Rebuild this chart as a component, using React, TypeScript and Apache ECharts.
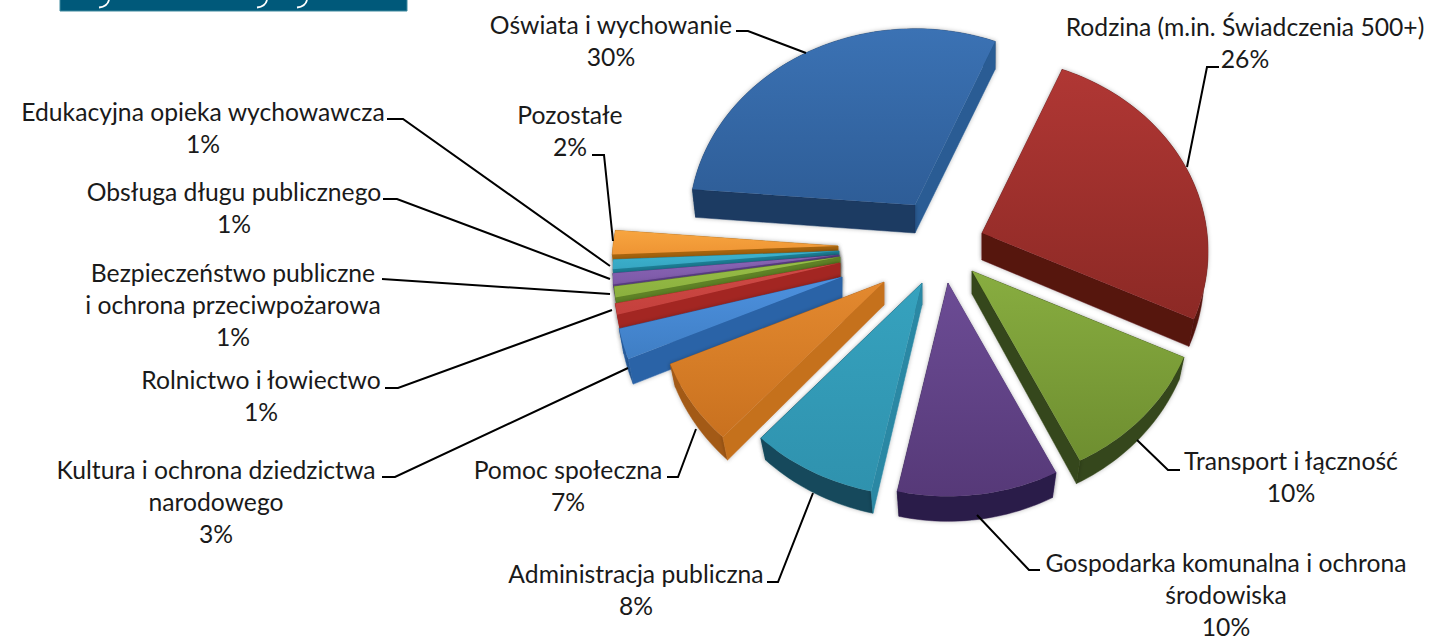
import React, { useEffect, useRef } from "react";
import * as echarts from "echarts";

// Counter-clockwise from the top-right edge of the largest slice (also the paint order).
const categories = [
  "Oświata i wychowanie",
  "Pozostałe",
  "Edukacyjna opieka wychowawcza",
  "Obsługa długu publicznego",
  "Bezpieczeństwo publiczne\ni ochrona przeciwpożarowa",
  "Rolnictwo i łowiectwo",
  "Kultura i ochrona dziedzictwa\nnarodowego",
  "Pomoc społeczna",
  "Administracja publiczna",
  "Gospodarka komunalna i ochrona\nśrodowiska",
  "Transport i łączność",
  "Rodzina (m.in. Świadczenia 500+)",
];
const shares = [30, 2, 0.8, 0.9, 0.9, 0.9, 2.5, 6.7, 8.3, 10.5, 10.7, 25.7];
const percentLabels = ["30%", "2%", "1%", "1%", "1%", "1%", "3%", "7%", "8%", "10%", "10%", "26%"];

// Exploded position of each slice's tip and its thickness
const tipX = [915, 838, 839, 839, 840, 840, 842, 884, 922, 948, 972, 982];
const tipY = [205, 246, 251, 255, 257, 263, 277, 282, 283, 283, 271, 233];
const depths = [28, 24, 24, 24, 24, 24, 25, 23, 22, 25, 23, 27];

const faceTop = ["#3B72B4", "#F7A540", "#3DB3CF", "#8A66B6", "#98BE48", "#CF4B46", "#4D91DF", "#E3892F", "#36A2BE", "#6C4C95", "#88AD40", "#B03734"];
const faceBottom = ["#2E5D97", "#EE9433", "#36A6C2", "#7D59A8", "#8BB03E", "#C4403C", "#3F7EC4", "#C9711F", "#2F92AE", "#563978", "#6E8E30", "#8C2925"];
const wallLight = ["#295C94", "#A8650F", "#1F7F96", "#5E3F8C", "#5F8326", "#A32723", "#2B63A7", "#C5711F", "#2B88A4", "#4B3270", "#3C5019", "#5E1611"];
const wallDark = ["#1B3A62", "#A8650F", "#1F7F96", "#4E3478", "#5F8326", "#A32723", "#275C9C", "#A35A18", "#144A5C", "#2A1A48", "#34461A", "#561310"];

const labelX = [611, 570, 203, 234, 233, 261, 216, 568, 636, 1226, 1291, 1245];
const labelY = [24, 114, 111, 191, 272, 379, 469, 469, 573, 562, 460, 26];
const LINE_STEP = 32.4;
const leaderLines: number[][][] = [
  [[736, 31], [748, 31], [806, 53]],
  [[592, 155], [604, 155], [613, 241]],
  [[387, 119], [403, 119], [610, 266]],
  [[383, 199], [397, 199], [610, 279]],
  [[382, 279], [610, 294]],
  [[385, 388], [398, 388], [612, 310]],
  [[382, 477], [395, 477], [628, 368]],
  [[667, 477], [678, 477], [696, 429]],
  [[767, 582], [778, 582], [813, 493]],
  [[1040, 570], [1029, 570], [977, 515]],
  [[1180, 470], [1168, 470], [1137, 440]],
  [[1219, 67], [1207, 67], [1187, 167]],
];

const START_ANGLE = 22.8;
const RX = 225;
const RY = 193;
const PERSP = 0.095;
const INSET = 0.035;

const rimPoint = (deg: number) => {
  const t = (deg * Math.PI) / 180;
  const w = 1 + PERSP * Math.cos(t);
  return [(RX * Math.sin(t)) / w, (-RY * Math.cos(t)) / w];
};

export default function App() {
  const ref = useRef<HTMLDivElement>(null);
  useEffect(() => {
    const chart = echarts.init(ref.current!, undefined, { renderer: "svg" });
    const total = shares.reduce((a, b) => a + b, 0);
    const renderItem = (params: any, api: any) => {
      const i = params.dataIndex;
      let before = 0;
      for (let k = 0; k < i; k++) before += shares[k];
      const a0 = START_ANGLE - (before / total) * 360;
      const a1 = a0 - (api.value(0) / total) * 360;
      const tx = tipX[i];
      const ty = tipY[i];
      const depth = depths[i];
      const top: number[][] = [];
      const bottom: number[][] = [];
      const steps = Math.max(2, Math.ceil((a0 - a1) / 1.5));
      for (let s = 0; s <= steps; s++) {
        const [dx, dy] = rimPoint(a0 + ((a1 - a0) * s) / steps);
        const inset = (INSET * (dy + 176)) / 389;
        top.push([tx + dx, ty + dy]);
        bottom.push([tx + dx * (1 - inset), ty + dy + depth]);
      }
      const tipTop = [tx, ty];
      const tipBottom = [tx, ty + depth];
      const last = steps;
      const shadow = { shadowBlur: 4, shadowColor: "rgba(0,0,0,0.28)" };
      const rad = (deg: number) => (deg * Math.PI) / 180;
      // a0 edge's wall faces a0 + 90, a1 edge's wall faces a1 - 90
      const wall = (p: number[], q: number[], normalDeg: number) => {
        const fill = Math.sin(rad(normalDeg)) > 0 ? wallLight[i] : wallDark[i];
        return {
          type: "polygon",
          shape: { points: [tipTop, p, q, tipBottom] },
          style: { fill, stroke: fill, lineWidth: 0.5, ...shadow },
        };
      };
      const walls = [
        { el: wall(top[0], bottom[0], a0 + 90), near: Math.cos(rad(a0 + 90)) < 0 },
        { el: wall(top[last], bottom[last], a1 - 90), near: Math.cos(rad(a1 - 90)) < 0 },
      ];
      const lines = (categories[i] + "\n" + percentLabels[i]).split("\n");
      return {
        type: "group",
        children: [
          ...walls.filter((w) => !w.near).map((w) => w.el),
          {
            type: "polygon",
            shape: { points: [...top, ...[...bottom].reverse()] },
            style: { fill: wallDark[i], stroke: wallDark[i], lineWidth: 0.5, ...shadow },
          },
          ...walls.filter((w) => w.near).map((w) => w.el),
          {
            type: "polygon",
            shape: { points: [tipTop, ...top] },
            style: {
              fill: new echarts.graphic.LinearGradient(0, 0, 0, 1, [
                { offset: 0, color: faceTop[i] },
                { offset: 1, color: faceBottom[i] },
              ]),
            },
          },
          {
            type: "polyline",
            z2: 5,
            shape: { points: leaderLines[i] },
            style: { stroke: "#000", lineWidth: 2, fill: "none" },
          },
          ...lines.map((line, k) => ({
            type: "text",
            z2: 6,
            style: {
              text: line,
              x: labelX[i],
              y: labelY[i] + k * LINE_STEP,
              align: "center",
              verticalAlign: "middle",
              fontFamily: "Lato",
              fontSize: 24.7,
              lineHeight: 24,
              fill: "#1a1a1a",
            },
          })),
        ],
      };
    };
    chart.setOption({
      animation: false,
      backgroundColor: "#fff",
      series: [
        {
          type: "custom",
          coordinateSystem: "none",
          renderItem,
          data: shares.map((v) => [v]),
          silent: true,
        },
      ],
      graphic: [
        { type: "rect", shape: { x: 60, y: -2, width: 347, height: 13 }, style: { fill: "#00597A", stroke: "#3F8A9E", lineWidth: 1 } },
        ...[99, 257, 297].map((x) => ({
          type: "bezierCurve",
          shape: { x1: x + 10, y1: 0, cpx1: x + 9, cpy1: 4, cpx2: x + 5, cpy2: 7, x2: x, y2: 7.5 },
          style: { stroke: "#fff", lineWidth: 1.8, fill: "none" },
        })),
      ],
    });
    return () => chart.dispose();
  }, []);
  return <div ref={ref} style={{ position: "absolute", left: 0, top: 0, width: 1431, height: 639 }} />;
}
